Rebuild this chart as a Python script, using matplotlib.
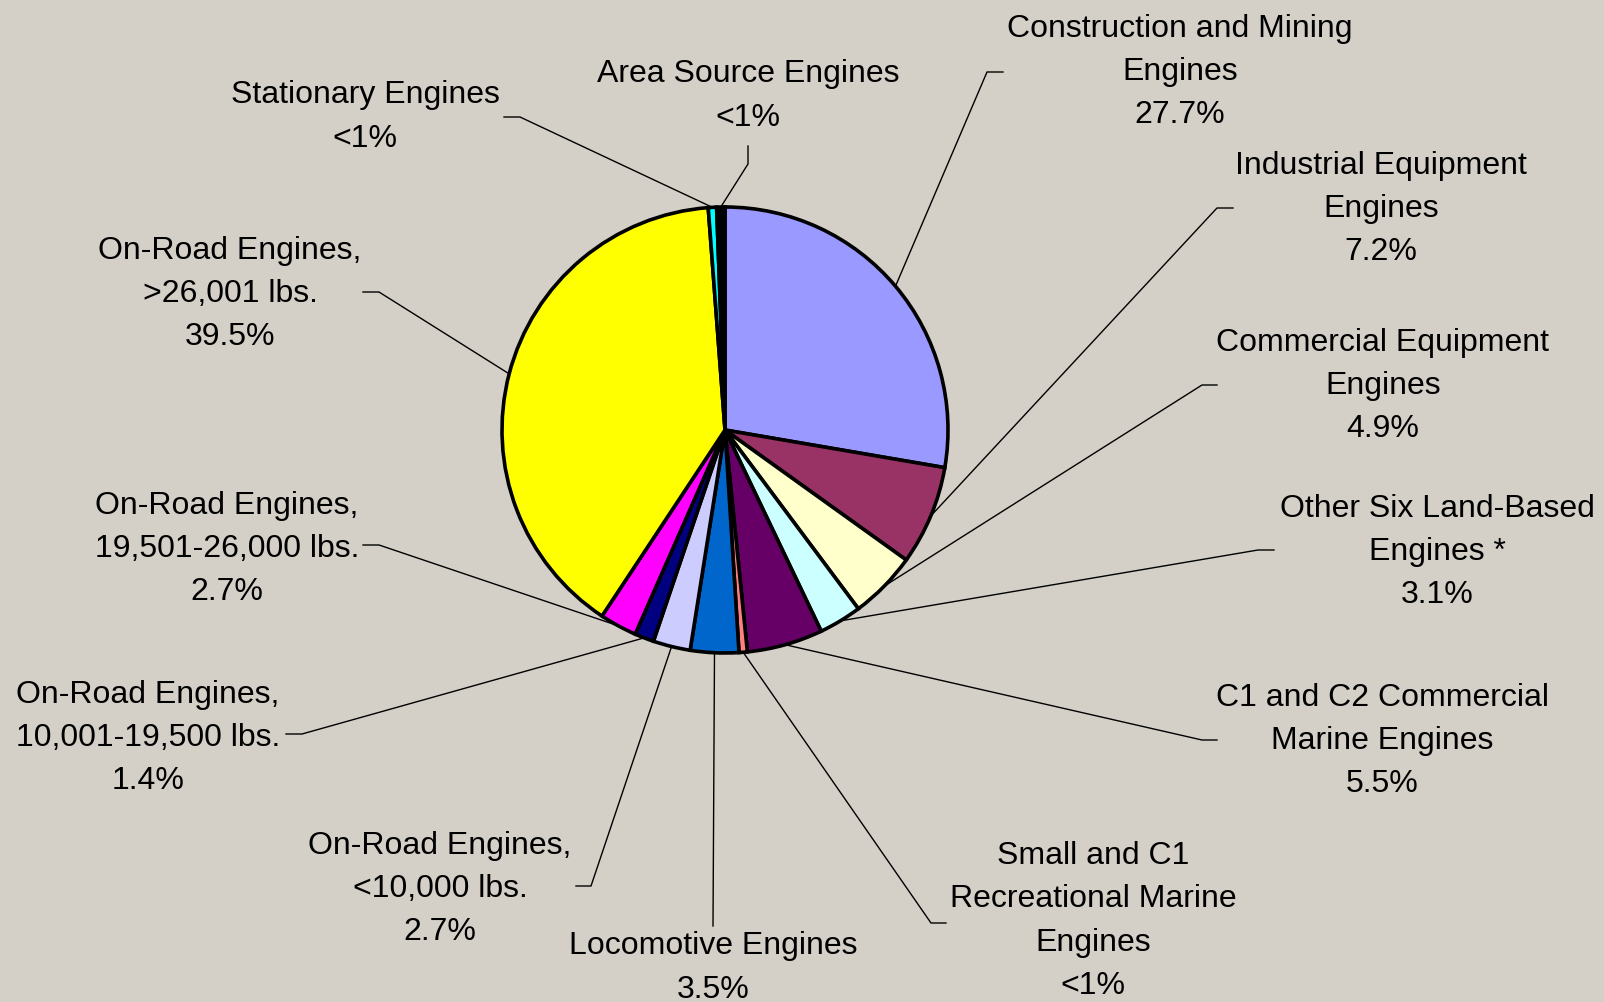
import numpy as np
import matplotlib
matplotlib.use("Agg")
import matplotlib.pyplot as plt

# ---- data ----
categories = [
    "Construction and Mining\nEngines",
    "Industrial Equipment\nEngines",
    "Commercial Equipment\nEngines",
    "Other Six Land-Based\nEngines *",
    "C1 and C2 Commercial\nMarine Engines",
    "Small and C1\nRecreational Marine\nEngines",
    "Locomotive Engines",
    "On-Road Engines,\n<10,000 lbs.",
    "On-Road Engines,\n10,001-19,500 lbs.",
    "On-Road Engines,\n19,501-26,000 lbs.",
    "On-Road Engines,\n>26,001 lbs.",
    "Stationary Engines",
    "Area Source Engines",
]
values = [27.7, 7.2, 4.9, 3.1, 5.5, 0.6, 3.5, 2.7, 1.4, 2.7, 39.5, 0.6, 0.6]
pct_labels = ["27.7%", "7.2%", "4.9%", "3.1%", "5.5%", "<1%", "3.5%",
              "2.7%", "1.4%", "2.7%", "39.5%", "<1%", "<1%"]
colors = ["#9999FF", "#993366", "#FFFFCC", "#CCFFFF", "#660066", "#FF8080",
          "#0066CC", "#CCCCFF", "#000080", "#FF00FF", "#FFFF00", "#00FFFF",
          "#000000"]

# ---- layout (pixel coords, y downward) ----
W, H = 1604, 1002
BG = "#D4D0C8"
CX, CY, R = 725, 430, 223
label_pos = [(1180, 72), (1381, 209), (1383, 386), (1437, 552), (1382, 741),
             (1093, 921), (713, 968), (440, 889), (148, 738), (227, 549),
             (230, 294), (365, 117), (748, 96)]
elbows = [[(987, 72), (1003, 72)],
          [(1217, 208), (1233, 208)],
          [(1202, 385), (1217, 385)],
          [(1258, 550), (1274, 550)],
          [(1202, 740), (1217, 740)],
          [(931, 923), (946, 923)],
          [(713, 926)],
          [(591, 886), (576, 886)],
          [(302, 734), (286, 734)],
          [(379, 545), (363, 545)],
          [(379, 292), (363, 292)],
          [(520, 117), (504, 117)],
          [(748, 164), (748, 146)]]

plt.rcParams['font.family'] = ['Liberation Sans', 'DejaVu Sans']

fig = plt.figure(figsize=(W / 100, H / 100), dpi=100, facecolor=BG)
ax = fig.add_axes([0, 0, 1, 1])
ax.set_facecolor(BG)

wedges, _ = ax.pie(values, colors=colors, startangle=90, counterclock=False,
                   radius=R, center=(CX, H - CY),
                   wedgeprops=dict(edgecolor="black", linewidth=2.6, joinstyle="miter"))

total = sum(values)
cum = 0.0
for i, v in enumerate(values):
    mid = cum + v / 2.0
    cum += v
    theta = np.deg2rad(90 - 360.0 * mid / total)
    px = CX + R * np.cos(theta)
    py = (H - CY) + R * np.sin(theta)
    xs = [px] + [p[0] for p in elbows[i]]
    ys = [py] + [H - p[1] for p in elbows[i]]
    ax.plot(xs, ys, color="black", lw=1.0, zorder=0.5)
    lx, ly = label_pos[i]
    ax.text(lx, H - ly, categories[i] + "\n" + pct_labels[i], ha="center",
            va="center", fontsize=23, linespacing=1.585, color="black")

ax.set_xlim(0, W)
ax.set_ylim(0, H)
ax.set_aspect("equal")
ax.axis("off")
fig.savefig("out.png", dpi=100, facecolor=BG)
